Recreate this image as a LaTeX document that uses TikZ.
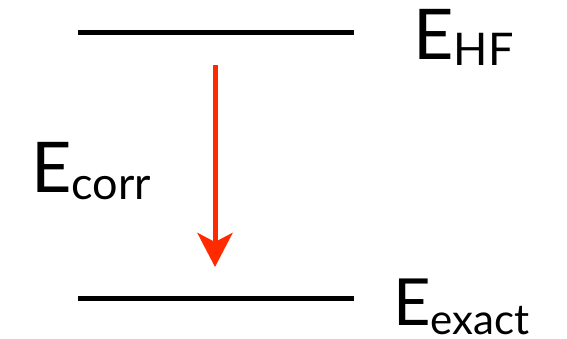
\documentclass[tikz,border=0pt]{standalone}
\usepackage{fontspec}
\setmainfont{Lato}
\usetikzlibrary{arrows.meta}
\definecolor{arrowred}{HTML}{FF2A00}
\begin{document}
\begin{tikzpicture}[x=1pt,y=-1pt,
  level/.style={line width=5pt},
  elabel/.style={inner sep=0pt,anchor=base west,font=\fontsize{70}{70}\selectfont}]
\useasboundingbox (0,0) rectangle (567,339);
\coordinate (hfL) at (78,33);
\coordinate (hfR) at (354,33);
\coordinate (exL) at (78,298);
\coordinate (exR) at (354,298);
\draw[level] (hfL) -- (hfR);
\draw[level] (exL) -- (exR);
\coordinate (aS) at (215,65);
\coordinate (aE) at (215,267);
\draw[arrowred,line width=5pt,-{Stealth[length=34pt,width=35pt,inset=9pt]}] (aS) -- (aE);
\node[elabel] (ehf) at (413,60) {E\raisebox{-6pt}{\fontsize{45}{45}\selectfont HF}};
\node[elabel] (ecorr) at (31,193) {E\raisebox{-7pt}{\fontsize{45}{45}\selectfont corr}};
\node[elabel,font=\fontsize{65}{65}\selectfont] (eexact) at (393,325) {E\raisebox{-9pt}{\fontsize{42}{42}\selectfont exact}};
\end{tikzpicture}
\end{document}
